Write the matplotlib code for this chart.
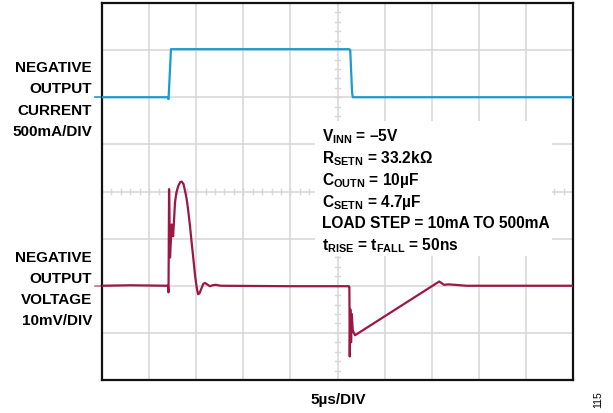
import numpy as np
import matplotlib
matplotlib.use("Agg")
import matplotlib.pyplot as plt
from matplotlib.patches import Rectangle

plt.rcParams['font.family'] = ['Liberation Sans', 'DejaVu Sans']
plt.rcParams['mathtext.fontset'] = 'custom'
plt.rcParams['mathtext.bf'] = 'Liberation Sans:bold'
plt.rcParams['mathtext.rm'] = 'Liberation Sans'

# time in us (5us/div, 10 div)
cur_t = [0.0, 7.0, 7.05, 7.10, 7.32, 26.25, 26.35, 26.55, 26.62, 50.0]
cur_ma = [10, 10, -10, 60, 520, 520, 510, 60, 10, 10]

volt_t = [0.0, 3.0, 7.0, 7.06, 7.12, 7.22, 7.40, 7.55, 7.65, 7.75, 7.9, 8.1,
          8.3, 8.46, 8.65, 8.85, 8.99, 9.15, 9.34, 9.5, 9.7, 9.9, 10.05, 10.2,
          10.35, 10.55, 10.75, 10.93, 11.15, 11.46, 11.75, 12.07, 12.6, 20.0,
          26.2, 26.26, 26.30, 26.36, 26.44, 26.52, 26.62, 26.86, 35.8, 36.3,
          36.8, 38.7, 50.0]
volt_mv = [0.0, 0.1, 0.0, -1.4, 20.5, 6.0, 13.0, 10.5, 14.0, 17.7, 19.8, 21.2,
           22.0, 22.1, 21.6, 19.8, 18.4, 16.0, 12.7, 9.5, 5.7, 1.8, -0.3, -1.8,
           -1.6, -0.6, 0.4, 0.6, 0.3, -0.1, 0.1, 0.2, 0.0, -0.1,
           -0.1, -0.3, -15.0, -5.0, -12.0, -6.0, -9.5, -10.5, 0.9, 0.2,
           0.3, 0.0, 0.0]

cur_div = 500.0   # mA/div
volt_div = 10.0   # mV/div
t_div = 5.0       # us/div
cur_ref = 6.0     # 10mA level, div
volt_ref = 2.0    # div

blue = '#1b9bd1'
red = '#9c1842'
grid_c = '#d6d6d6'

fig = plt.figure(figsize=(6.13, 4.14), dpi=100)
ax = fig.add_axes([102 / 613, 1 - 381 / 414, 471 / 613, 377 / 414])
ax.set_xlim(0, 10)
ax.set_ylim(0, 8)

for i in range(1, 10):
    ax.axvline(i, color=grid_c, lw=1.1, zorder=1)
for j in range(1, 8):
    ax.axhline(j, color=grid_c, lw=1.1, zorder=1)
# minor ticks on center lines
for k in np.arange(0, 10.01, 0.2):
    ax.plot([k, k], [4 - 0.06, 4 + 0.06], color=grid_c, lw=1.0, zorder=1)
for k in np.arange(0, 8.01, 0.2):
    ax.plot([5 - 0.06, 5 + 0.06], [k, k], color=grid_c, lw=1.0, zorder=1)

# white box behind annotation
ax.add_patch(Rectangle(((315 - 102) / 47.1, (381 - 257) / 47.1),
                       (552 - 315) / 47.1, (257 - 122) / 47.1,
                       facecolor='white', edgecolor='none', zorder=2))

ct = np.array(cur_t) / t_div
cy = cur_ref + (np.array(cur_ma) - 10) / cur_div
vt = np.array(volt_t) / t_div
vy = volt_ref + np.array(volt_mv) / volt_div
ax.plot(ct, cy, color=blue, lw=1.6, zorder=3)
ax.plot(vt, vy, color=red, lw=1.6, zorder=3)

# ground markers
ax.plot([-0.15, 0], [cur_ref, cur_ref], color=blue, lw=1.2, clip_on=False)
ax.plot([-0.15, 0], [volt_ref, volt_ref], color='#c27088', lw=1.2, clip_on=False)

ax.set_xticks([])
ax.set_yticks([])
for s in ax.spines.values():
    s.set_linewidth(1.6)
    s.set_color('#111111')

lines = [r'V$_{\mathbf{INN}}$ = –5V',
         r'R$_{\mathbf{SETN}}$ = 33.2kΩ',
         r'C$_{\mathbf{OUTN}}$ = 10µF',
         r'C$_{\mathbf{SETN}}$ = 4.7µF',
         'LOAD STEP = 10mA TO 500mA',
         r't$_{\mathbf{RISE}}$ = t$_{\mathbf{FALL}}$ = 50ns']
for i, s in enumerate(lines):
    fig.text(322 / 613, 1 - (137 + i * 21.7) / 414, s, fontsize=11.2,
             fontweight='bold', ha='left', va='center')

left_cur = ['NEGATIVE', 'OUTPUT', 'CURRENT', '500mA/DIV']
left_volt = ['NEGATIVE', 'OUTPUT', 'VOLTAGE', '10mV/DIV']
for i, s in enumerate(left_cur):
    fig.text(92 / 613, 1 - (68 + i * 21.3) / 414, s, fontsize=11,
             fontweight='bold', ha='right', va='center')
for i, s in enumerate(left_volt):
    fig.text(92 / 613, 1 - (258 + i * 21.0) / 414, s, fontsize=11,
             fontweight='bold', ha='right', va='center')

fig.text(338 / 613, 1 - 400 / 414, '5µs/DIV', fontsize=11,
         fontweight='bold', ha='center', va='center')
fig.text(598 / 613, 1 - 400 / 414, '115', fontsize=7.5, rotation=90,
         ha='center', va='center')

fig.savefig('out.png', dpi=100)
